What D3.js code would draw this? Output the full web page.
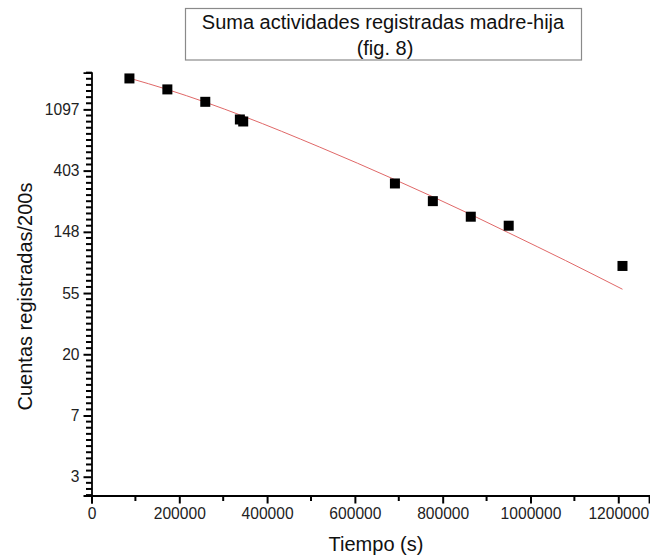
<!DOCTYPE html>
<html>
<head>
<meta charset="utf-8">
<script src="https://cdn.jsdelivr.net/npm/d3@7"></script>
<style>
  body { margin: 0; background: #fff; }
  svg { font-family: "Liberation Sans", Arial, sans-serif; }
</style>
</head>
<body>
<div id="chart"></div>
<script>
// medidas (s) y cuentas registradas / 200 s
var tiempo = [86400, 172800, 259200, 338000, 345600, 691200, 777600, 864000, 950400, 1209600];
var cuentas = [1818, 1520, 1241, 930, 900, 327, 245, 190, 164, 85];

// curva de ajuste
var ajusteT = [86400, 172800, 259200, 345600, 520000, 691200, 777600, 864000, 950400, 1080000, 1209600];
var ajusteC = [1826, 1518, 1234, 982, 592, 348, 263, 197, 146, 92.8, 58.1];

var xTicks = [0, 200000, 400000, 600000, 800000, 1000000, 1200000];
var xMinor = [100000, 300000, 500000, 700000, 900000, 1100000];
var yTickExp = [1, 2, 3, 4, 5, 6, 7];
var yTickLabels = ["3", "7", "20", "55", "148", "403", "1097"];

var svg = d3.select("#chart").append("svg")
    .attr("width", 650)
    .attr("height", 558);

var x = d3.scaleLinear().domain([0, 1270000]).range([91.5, 649]);
var y = d3.scaleLog().base(Math.E).domain([2, 2000]).range([495.5, 72.6]);

// titulo en recuadro
svg.append("rect")
    .attr("x", 185.5).attr("y", 8.5)
    .attr("width", 396).attr("height", 51.5)
    .attr("fill", "#fff")
    .attr("stroke", "#8a8a8a")
    .attr("stroke-width", 1.2);

svg.append("text")
    .attr("x", 383).attr("y", 29)
    .attr("text-anchor", "middle")
    .attr("font-size", 20)
    .attr("fill", "#111")
    .text("Suma actividades registradas madre-hija");

svg.append("text")
    .attr("x", 385).attr("y", 55)
    .attr("text-anchor", "middle")
    .attr("font-size", 20)
    .attr("fill", "#111")
    .text("(fig. 8)");

// eje x
var xAxis = svg.append("g")
    .attr("transform", "translate(0,495.5)")
    .call(d3.axisBottom(x).tickValues(xTicks).tickFormat(d3.format("d")).tickSize(8).tickPadding(4));
xAxis.select(".domain").attr("stroke-width", 1.8);
xAxis.selectAll("text").attr("font-size", 15.6).attr("fill", "#222");
xAxis.selectAll(".tick line").attr("stroke-width", 2);

svg.append("g")
    .attr("class", "minor-x")
    .selectAll("line")
    .data(xMinor)
    .enter().append("line")
    .attr("x1", function(d) { return x(d); })
    .attr("x2", function(d) { return x(d); })
    .attr("y1", 495)
    .attr("y2", 501)
    .style("stroke", "#000")
    .style("stroke-width", "2px");

// eje y (escala ln)
var yMinor = d3.range(7, 77)
    .filter(function(i) { return i % 10 !== 0; })
    .map(function(i) { return Math.exp(i / 10); });

var yAxis = svg.append("g")
    .attr("transform", "translate(91.5,0)")
    .call(d3.axisLeft(y)
        .tickValues(yTickExp.map(function(e) { return Math.exp(e); }))
        .tickFormat(function(d, i) { return yTickLabels[i]; })
        .tickSize(8).tickPadding(4));
yAxis.select(".domain").attr("stroke-width", 1.8);
yAxis.selectAll("text").attr("font-size", 15.6).attr("fill", "#222");
yAxis.selectAll(".tick line").attr("stroke-width", 2);

svg.append("g")
    .attr("class", "minor-y")
    .selectAll("line")
    .data(yMinor)
    .enter().append("line")
    .attr("x1", 86)
    .attr("x2", 92)
    .attr("y1", function(d) { return y(d); })
    .attr("y2", function(d) { return y(d); })
    .style("stroke", "#000")
    .style("stroke-width", "2px");

// titulos de ejes
svg.append("text")
    .attr("x", 376).attr("y", 551)
    .attr("text-anchor", "middle")
    .attr("font-size", 20)
    .attr("fill", "#111")
    .text("Tiempo (s)");

svg.append("text")
    .attr("transform", "translate(32,296.5) rotate(-90)")
    .attr("text-anchor", "middle")
    .attr("font-size", 20)
    .attr("fill", "#111")
    .text("Cuentas registradas/200s");

// ajuste
var linea = d3.line()
    .x(function(d, i) { return x(ajusteT[i]); })
    .y(function(d) { return y(d); })
    .curve(d3.curveMonotoneX);

svg.append("path")
    .datum(ajusteC)
    .attr("d", linea)
    .attr("fill", "none")
    .attr("stroke", "#e06868")
    .attr("stroke-width", 1);

// puntos
svg.selectAll("rect.punto")
    .data(cuentas)
    .enter().append("rect")
    .attr("class", "punto")
    .attr("x", function(d, i) { return x(tiempo[i]) - 5; })
    .attr("y", function(d) { return y(d) - 5; })
    .attr("width", 10)
    .attr("height", 10)
    .attr("fill", "#000");
</script>
</body>
</html>
